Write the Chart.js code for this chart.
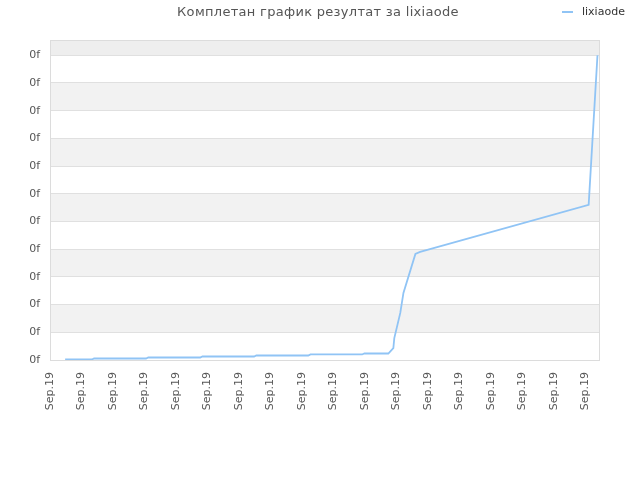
<!DOCTYPE html>
<html>
<head>
<meta charset="utf-8">
<script src="https://cdn.jsdelivr.net/npm/chart.js@4"></script>
<style>
html,body{margin:0;padding:0;background:#fff;}
#wrap{position:relative;width:640px;height:480px;}
#title{position:absolute;left:0;width:636px;top:4px;text-align:center;font:13px "DejaVu Sans";color:#555;letter-spacing:0.3px;}
#legend{position:absolute;left:562px;top:5px;font:11px "DejaVu Sans";color:#333;}
#legend span.sw{display:inline-block;width:11px;height:2px;background:#90c4f5;vertical-align:middle;margin-right:9px;}
</style>
</head>
<body>
<div id="wrap">
<canvas id="c" width="640" height="480"></canvas>
<div id="title">Комплетан график резултат за lixiaode</div>
<div id="legend"><span class="sw"></span>lixiaode</div>
</div>
<script>
const seriesName = "lixiaode";
const xValues = [0.48, 1.33, 1.40, 3.05, 3.12, 4.77, 4.84, 6.48, 6.55, 8.20, 8.27, 9.91, 9.98, 10.74, 10.90, 10.93, 11.12, 11.22, 11.60, 11.75, 17.10, 17.38];
const yValues = [0.018, 0.018, 0.054, 0.054, 0.09, 0.09, 0.126, 0.126, 0.162, 0.162, 0.2, 0.2, 0.235, 0.235, 0.43, 0.79, 1.70, 2.42, 3.83, 3.90, 5.60, 11.0];
const xTickLabels = ["Sep.19","Sep.19","Sep.19","Sep.19","Sep.19","Sep.19","Sep.19","Sep.19","Sep.19","Sep.19","Sep.19","Sep.19","Sep.19","Sep.19","Sep.19","Sep.19","Sep.19","Sep.19"];
const yTickLabels = ["0f","0f","0f","0f","0f","0f","0f","0f","0f","0f","0f","0f"];

const points = xValues.map((x, i) => ({x: x, y: yValues[i]}));

const bandPlugin = {
  id: 'bands',
  beforeDraw(chart) {
    const {ctx, chartArea: a, scales: {y}} = chart;
    ctx.save();
    const n = yTickLabels.length;
    for (let i = 0; i < n; i++) {
      const top = i === n - 1 ? a.top : y.getPixelForValue(i + 1);
      const bot = y.getPixelForValue(i);
      if (i === n - 1) { ctx.fillStyle = '#eeeeee'; ctx.fillRect(a.left, top, a.right - a.left, bot - top); }
      else if (i % 2 === 1) { ctx.fillStyle = '#f2f2f2'; ctx.fillRect(a.left, top, a.right - a.left, bot - top); }
    }
    ctx.restore();
  },
  afterDraw(chart) {
    const {ctx, chartArea: a} = chart;
    ctx.save();
    ctx.strokeStyle = '#dcdcdc';
    ctx.lineWidth = 1;
    ctx.strokeRect(a.left + 0.5, a.top + 0.5, a.right - a.left - 1, a.bottom - a.top);
    ctx.restore();
  }
};

new Chart(document.getElementById('c'), {
  type: 'line',
  data: {
    datasets: [{
      label: seriesName,
      data: points,
      borderColor: '#90c4f5',
      backgroundColor: '#90c4f5',
      borderWidth: 1.8,
      pointRadius: 0,
      tension: 0,
      fill: false
    }]
  },
  options: {
    responsive: false,
    devicePixelRatio: 1,
    animation: false,
    layout: {padding: {top: 40, right: 40, left: 0, bottom: 0}},
    plugins: {legend: {display: false}, title: {display: false}, tooltip: {enabled: false}},
    scales: {
      x: {
        type: 'linear',
        min: 0,
        max: 17.46,
        afterBuildTicks(scale) { scale.ticks = xTickLabels.map((_, i) => ({value: i})); },
        afterFit(scale) { scale.height = 120; },
        ticks: {
          callback: (v, i) => xTickLabels[i],
          minRotation: 90, maxRotation: 90,
          autoSkip: false,
          padding: 12,
          color: '#555',
          font: {family: 'DejaVu Sans', size: 11}
        },
        grid: {display: false, drawTicks: false},
        border: {display: false}
      },
      y: {
        type: 'linear',
        min: 0,
        max: 11.55,
        afterBuildTicks(scale) { scale.ticks = yTickLabels.map((_, i) => ({value: i})); },
        afterFit(scale) { scale.width = 50; },
        ticks: {
          callback: (v, i) => yTickLabels[i],
          padding: 10,
          color: '#555',
          font: {family: 'DejaVu Sans', size: 11}
        },
        grid: {color: '#e0e0e0', drawTicks: false},
        border: {display: false}
      }
    }
  },
  plugins: [bandPlugin]
});
</script>
</body>
</html>
